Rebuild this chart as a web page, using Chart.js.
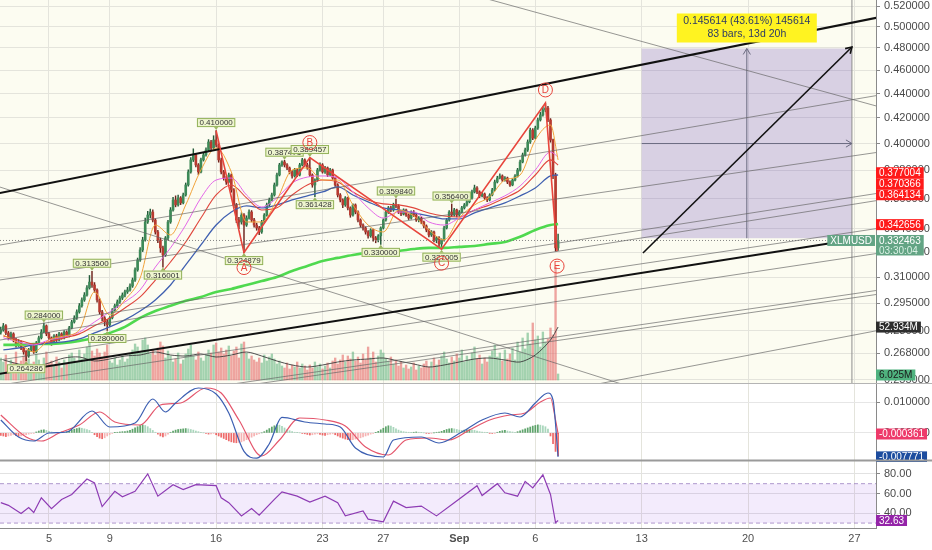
<!DOCTYPE html>
<html>
<head>
<meta charset="utf-8">
<script src="https://cdn.jsdelivr.net/npm/chart.js@4.4.1/dist/chart.umd.min.js"></script>
<style>
  html, body { margin: 0; padding: 0; background: #fff; }
  #wrap { position: relative; width: 932px; height: 550px; overflow: hidden; }
  .pane { position: absolute; left: 0; width: 932px; }
  #pMain { top: 0; height: 384px; }
  #pMacd { top: 384px; height: 78px; }
  #pRsi { top: 462px; height: 88px; }
</style>
</head>
<body>
<div id="wrap">
  <div class="pane" id="pMain"><canvas id="main"></canvas></div>
  <div class="pane" id="pMacd"><canvas id="macd"></canvas></div>
  <div class="pane" id="pRsi"><canvas id="rsi"></canvas></div>
</div>
<script>
// ---- XLMUSD 4h candles (bar index 0 = Aug 1 20:00) ----
const firstOpen = 0.2790;
const closes = [
  0.2803,0.2825,0.2787,0.2761,0.2782,0.2750,0.2724,0.2740,0.2708,0.2688,
  0.2667,0.2698,0.2719,0.2688,0.2734,0.2761,0.2792,0.2825,0.2782,0.2761,
  0.2734,0.2771,0.2750,0.2782,0.2761,0.2792,0.2771,0.2814,0.2846,0.2868,
  0.2901,0.2935,0.2968,0.2996,0.3037,0.3071,0.3054,0.3025,0.2968,0.2901,
  0.2868,0.2846,0.2830,0.2868,0.2912,0.2935,0.2957,0.2979,0.2996,0.3014,
  0.3025,0.3048,0.3083,0.3143,0.3203,0.3265,0.3328,0.3444,0.3490,0.3510,
  0.3457,0.3379,0.3328,0.3278,0.3234,0.3341,0.3444,0.3524,0.3592,0.3558,
  0.3606,0.3572,0.3626,0.3696,0.3789,0.3877,0.3914,0.3840,0.3789,0.3877,
  0.3914,0.3951,0.4012,0.3966,0.4027,0.3989,0.3877,0.3789,0.3745,0.3717,
  0.3767,0.3661,0.3558,0.3457,0.3444,0.3490,0.3424,0.3470,0.3510,0.3457,
  0.3424,0.3405,0.3379,0.3444,0.3490,0.3558,0.3592,0.3626,0.3696,0.3767,
  0.3840,0.3862,0.3840,0.3818,0.3789,0.3760,0.3803,0.3767,0.3840,0.3877,
  0.3840,0.3818,0.3767,0.3696,0.3731,0.3803,0.3840,0.3789,0.3818,0.3767,
  0.3803,0.3745,0.3696,0.3626,0.3592,0.3558,0.3606,0.3538,0.3490,0.3558,
  0.3510,0.3457,0.3424,0.3405,0.3379,0.3354,0.3392,0.3341,0.3328,0.3354,
  0.3405,0.3457,0.3510,0.3538,0.3524,0.3558,0.3551,0.3510,0.3497,0.3524,
  0.3490,0.3470,0.3510,0.3490,0.3457,0.3470,0.3444,0.3418,0.3392,0.3360,
  0.3379,0.3328,0.3341,0.3303,0.3328,0.3405,0.3457,0.3510,0.3490,0.3524,
  0.3490,0.3510,0.3538,0.3558,0.3579,0.3606,0.3647,0.3675,0.3647,0.3620,
  0.3633,0.3606,0.3592,0.3626,0.3661,0.3717,0.3745,0.3760,0.3731,0.3745,
  0.3717,0.3696,0.3731,0.3760,0.3803,0.3862,0.3914,0.3951,0.4012,0.4104,
  0.4042,0.4120,0.4184,0.4224,0.4264,0.4280,0.4184,0.4027,0.3767,0.3278,
  0.332463
];
const highs = [
  0.2818,0.2838,0.2832,0.2795,0.2792,0.2788,0.2758,0.2752,0.2745,0.2715,
  0.2694,0.2706,0.2728,0.2725,0.2742,0.2770,0.2805,0.2840,0.2830,0.2790,
  0.2766,0.2778,0.2780,0.2790,0.2788,0.2800,0.2798,0.2822,0.2855,0.2880,
  0.2912,0.2948,0.2980,0.3010,0.3050,0.3110,0.3135,0.3068,0.3032,0.2975,
  0.2910,0.2875,0.2860,0.2876,0.2920,0.2945,0.2968,0.2990,0.3008,0.3025,
  0.3040,0.3060,0.3095,0.3155,0.3215,0.3280,0.3345,0.3470,0.3515,0.3530,
  0.3525,0.3465,0.3390,0.3340,0.3290,0.3350,0.3455,0.3540,0.3610,0.3620,
  0.3625,0.3615,0.3640,0.3710,0.3805,0.3895,0.3960,0.3925,0.3850,0.3890,
  0.3930,0.3968,0.4030,0.4025,0.4060,0.4100,0.3998,0.3890,0.3800,0.3758,
  0.3780,0.3775,0.3670,0.3568,0.3475,0.3505,0.3500,0.3485,0.3525,0.3520,
  0.3468,0.3436,0.3415,0.3455,0.3500,0.3570,0.3605,0.3640,0.3710,0.3780,
  0.3852,0.3870,0.387471,0.3850,0.3825,0.3798,0.3815,0.3812,0.3852,0.3888,
  0.3885,0.3852,0.389457,0.3775,0.3740,0.3815,0.3855,0.3850,0.3830,0.3825,
  0.3815,0.3810,0.3752,0.3705,0.3635,0.3600,0.3615,0.3612,0.3545,0.3565,
  0.3565,0.3518,0.3465,0.3432,0.3412,0.3388,0.3400,0.3398,0.3350,0.3362,
  0.3412,0.3465,0.3520,0.3548,0.3550,0.3570,0.35984,0.3560,0.3522,0.3532,
  0.3530,0.3498,0.3518,0.3520,0.3498,0.3480,0.3478,0.3450,0.3425,0.3400,
  0.3388,0.3385,0.3350,0.3350,0.3335,0.3415,0.3468,0.3520,0.3564,0.3535,
  0.3530,0.3520,0.3548,0.3568,0.3590,0.3618,0.3660,0.3695,0.3685,0.3655,
  0.3645,0.3640,0.3615,0.3635,0.3672,0.3730,0.3758,0.3775,0.3768,0.3755,
  0.3752,0.3725,0.3740,0.3770,0.3815,0.3875,0.3928,0.3965,0.4028,0.4120,
  0.4115,0.4135,0.4200,0.4245,0.4290,0.4320,0.4295,0.4195,0.4035,0.3780,
  0.3365
];
const lows = [
  0.2780,0.2796,0.2778,0.2750,0.2752,0.2740,0.2712,0.2716,0.2700,0.2676,
  0.264286,0.2660,0.2690,0.2680,0.2684,0.2728,0.2755,0.2788,0.2772,0.2752,
  0.2722,0.2728,0.2742,0.2745,0.2754,0.2756,0.2764,0.2766,0.2808,0.2840,
  0.2860,0.2894,0.2928,0.2960,0.2990,0.3030,0.3040,0.3012,0.2955,0.2890,
  0.2852,0.2825,0.2800,0.2822,0.2862,0.2905,0.2925,0.2948,0.2970,0.2985,
  0.3005,0.3018,0.3040,0.3075,0.3135,0.3195,0.3255,0.3320,0.3435,0.3470,
  0.3445,0.3365,0.3310,0.3250,0.316001,0.3225,0.3330,0.3435,0.3515,0.3545,
  0.3550,0.3560,0.3565,0.3618,0.3688,0.3780,0.3865,0.3825,0.3770,0.3782,
  0.3868,0.3905,0.3942,0.3950,0.3958,0.3975,0.3860,0.3775,0.3730,0.3700,
  0.3710,0.3645,0.3540,0.3440,0.3400,0.3430,0.324879,0.3415,0.3462,0.3445,
  0.3410,0.3390,0.3362,0.3370,0.3436,0.3482,0.3548,0.3585,0.3618,0.3688,
  0.3760,0.3830,0.3825,0.3805,0.3775,0.3745,0.3752,0.3755,0.3760,0.3832,
  0.3830,0.3808,0.3755,0.3680,0.361428,0.3722,0.3795,0.3780,0.3778,0.3755,
  0.3760,0.3735,0.3685,0.3612,0.3578,0.3540,0.3548,0.3525,0.3475,0.3482,
  0.3498,0.3445,0.3410,0.3390,0.3365,0.3340,0.3345,0.3320,0.3310,0.3315,
  0.3300,0.3398,0.3450,0.3500,0.3512,0.3515,0.3540,0.3500,0.3485,0.3490,
  0.3480,0.3460,0.3462,0.3480,0.3448,0.3445,0.3432,0.3405,0.3380,0.3348,
  0.3350,0.3315,0.3310,0.3285,0.327005,0.3320,0.3398,0.3450,0.3480,0.3482,
  0.3478,0.3482,0.3502,0.3530,0.3550,0.3572,0.3598,0.3640,0.3635,0.3608,
  0.3612,0.3595,0.3580,0.3585,0.3620,0.3655,0.3710,0.3738,0.3720,0.3722,
  0.3705,0.3685,0.3690,0.3725,0.3752,0.3795,0.3855,0.3905,0.3940,0.4000,
  0.4030,0.4035,0.4110,0.4175,0.4215,0.4250,0.4170,0.4010,0.3740,0.3258,
  0.3262
];
// volume in millions
const volumes = [
  22,18,25,15,20,17,28,14,19,24,30,21,16,18,26,20,15,22,28,17,
  19,14,23,18,12,20,16,25,27,22,18,30,21,26,33,38,29,24,31,27,
  23,28,35,19,17,22,15,20,24,18,21,26,30,36,33,28,40,42,35,26,
  30,25,32,38,34,22,29,24,18,21,27,16,20,26,31,35,24,20,28,22,
  19,25,30,27,35,37,28,32,26,30,34,24,29,33,22,36,38,27,21,24,
  20,18,22,17,25,19,23,26,21,16,19,14,12,17,11,15,13,18,12,16,
  14,10,15,12,18,13,16,11,14,17,12,19,22,16,20,25,18,24,21,28,
  19,23,17,26,20,33,22,28,18,24,30,27,21,19,23,16,20,14,18,12,
  15,11,13,17,10,14,12,16,19,13,18,22,15,20,24,28,21,17,23,19,
  26,22,30,18,24,20,27,33,21,25,16,22,18,24,29,35,23,27,19,30,
  21,26,32,20,38,28,42,31,47,36,57,40,44,33,48,38,41,52,45,113,
  6.025
];

// ---- moving averages, read once a day (bar index) ----
const maBars = [1,7,13,19,25,31,37,43,49,55,61,67,73,79,85,91,97,103,109,115,121,127,133,139,145,151,157,163,169,175,181,187,193,199,205,211,217,220];
const emaFast = [0.2776,0.2734,0.2688,0.2750,0.2771,0.2803,0.3014,0.2884,0.2968,0.3095,0.3424,0.3360,0.3558,0.3803,0.3966,0.3789,0.3444,0.3444,0.3592,0.3803,0.3818,0.3731,0.3731,0.3558,0.3424,0.3379,0.3524,0.3484,0.3392,0.3328,0.3470,0.3558,0.3613,0.3731,0.3767,0.4027,0.4144,0.3877];
const emaMid = [0.2761,0.2740,0.2724,0.2750,0.2766,0.2792,0.2846,0.2901,0.2957,0.3025,0.3160,0.3278,0.3424,0.3606,0.3731,0.3745,0.3626,0.3544,0.3606,0.3710,0.3752,0.3760,0.3745,0.3647,0.3538,0.3470,0.3510,0.3510,0.3444,0.3424,0.3470,0.3524,0.3572,0.3620,0.3689,0.3803,0.3936,0.3899];
const smaRed = [0.2771,0.2750,0.2729,0.2740,0.2761,0.2782,0.2825,0.2868,0.2923,0.2985,0.3083,0.3191,0.3315,0.3470,0.3626,0.3696,0.3606,0.3524,0.3538,0.3626,0.3696,0.3731,0.3717,0.3647,0.3592,0.3565,0.3558,0.3538,0.3504,0.3484,0.3477,0.3524,0.3558,0.3606,0.3661,0.3767,0.3877,0.3840];
const emaSlow = [0.2698,0.2708,0.2724,0.2734,0.2740,0.2755,0.2787,0.2819,0.2857,0.2906,0.2968,0.3054,0.3173,0.3297,0.3424,0.3510,0.3551,0.3538,0.3558,0.3592,0.3620,0.3647,0.3682,0.3626,0.3579,0.3538,0.3524,0.3504,0.3484,0.3464,0.3464,0.3504,0.3538,0.3572,0.3620,0.3675,0.3760,0.3767];
const ema200 = [0.2724,0.2724,0.2729,0.2729,0.2734,0.2745,0.2761,0.2787,0.2819,0.2868,0.2906,0.2935,0.2963,0.2985,0.3014,0.3031,0.3054,0.3077,0.3101,0.3137,0.3167,0.3197,0.3216,0.3234,0.3247,0.3253,0.3259,0.3271,0.3278,0.3278,0.3284,0.3290,0.3303,0.3315,0.3348,0.3392,0.3424,0.3431];
const volMa = [20,16,13,17,22,23,19,21,24,25,28,25,24,26,23,25,28,24,19,15,13,15,18,20,21,22,19,16,13,15,18,21,22,20,18,25,40,53];

// ---- MACD ----
const macdBars = [0,7,13,19,26,36,43,53,60,65,69,78,85,90,96,101,106,111,120,128,134,140,151,155,166,173,182,190,199,205,211,216,218,220];
const macdLine = [0.00417,-0.00133,-0.00263,-0.00004,0.00029,0.00709,0.00191,0.00320,0.01097,0.00676,0.00968,0.01454,0.01259,0.00644,-0.00600,-0.00820,-0.00350,0.00500,0.00353,0.00288,0.00191,-0.00489,-0.00781,-0.00230,-0.00133,-0.00327,0.00029,0.00417,0.00644,0.00515,0.00968,0.01292,0.01065,-0.007771];
const signalBars = [0,10,16,23,31,39,45,55,63,71,81,87,94,103,110,118,128,136,144,153,160,169,177,185,193,201,207,213,217,219,220];
const signalLine = [0.00579,-0.00133,-0.00263,-0.00004,0.00255,0.00676,0.00353,0.00255,0.00903,0.00968,0.01454,0.01292,0.00417,-0.00748,-0.00230,0.00482,0.00417,0.00223,-0.00457,-0.00716,-0.00230,-0.00166,-0.00230,0.00094,0.00417,0.00579,0.00644,0.01000,0.01130,0.00417,-0.000361];
const histogram = [
  -0.0008,-0.0010,-0.0012,-0.0010,-0.0008,-0.0006,
  -0.0009,-0.0011,-0.0010,-0.0008,-0.0006,-0.0004,-0.0002,-0.0001,
  0.0003,0.0006,0.0009,0.0010,0.0008,0.0005,
  0.0003,0.0002,0.0001,0.0002,0.0003,0.0002,0.0004,0.0006,0.0009,0.0012,
  0.0014,0.0016,0.0015,0.0013,0.0011,0.0008,
  0.0002,-0.0006,-0.0012,-0.0017,-0.0019,-0.0016,-0.0010,-0.0005,
  -0.0002,0.0001,0.0002,0.0003,0.0004,0.0004,0.0006,0.0008,
  0.0012,0.0016,0.0020,0.0024,0.0026,0.0024,0.0020,0.0014,
  0.0008,0.0002,-0.0004,-0.0010,-0.0013,-0.0010,-0.0004,
  0.0002,0.0006,0.0009,0.0011,0.0012,0.0013,0.0014,0.0013,0.0011,0.0009,0.0006,0.0004,
  0.0002,0.0000,-0.0002,-0.0004,-0.0003,-0.0002,
  -0.0006,-0.0010,-0.0014,-0.0018,-0.0022,-0.0026,-0.0029,-0.0031,-0.0032,-0.0031,
  -0.0029,-0.0026,-0.0022,-0.0018,-0.0014,-0.0010,-0.0006,-0.0003,0.0000,0.0004,
  0.0009,0.0014,0.0019,0.0023,0.0026,0.0025,0.0021,0.0016,0.0011,0.0007,
  0.0004,0.0002,0.0001,0.0000,-0.0002,-0.0003,
  -0.0005,-0.0007,-0.0006,-0.0004,-0.0003,-0.0005,-0.0007,-0.0008,-0.0006,-0.0004,-0.0003,-0.0006,-0.0010,
  -0.0014,-0.0017,-0.0020,-0.0022,-0.0023,-0.0022,-0.0020,-0.0018,-0.0016,-0.0013,-0.0010,-0.0007,-0.0004,-0.0002,0.0001,0.0005,
  0.0010,0.0015,0.0020,0.0023,0.0022,0.0018,0.0013,0.0009,
  0.0006,0.0004,0.0003,0.0002,0.0001,0.0002,0.0003,0.0002,0.0001,0.0000,
  -0.0001,-0.0002,-0.0001,0.0000,0.0002,0.0003,0.0005,0.0008,0.0011,0.0013,
  0.0014,0.0013,0.0011,0.0009,0.0008,0.0009,0.0010,0.0011,0.0010,0.0008,0.0006,0.0004,0.0003,
  0.0002,0.0001,-0.0001,-0.0002,-0.0001,0.0002,0.0005,0.0007,0.0008,0.0006,0.0004,0.0003,0.0002,0.0004,0.0007,
  0.0010,0.0013,0.0016,0.0019,0.0022,0.0024,0.0026,0.0025,0.0023,0.0020,
  0.0012,-0.0010,-0.0035,-0.0060,-0.0074
];

// ---- RSI ----
const rsiBars = [0,3,8,11,13,16,20,24,28,34,37,40,45,48,53,58,62,68,72,77,85,87,90,95,99,102,108,111,117,122,128,133,136,143,145,151,155,160,166,172,179,188,190,196,199,204,207,210,214,217,219,220];
const rsiValues = [50.7,48,39.7,45.7,40.7,55.7,44.7,54,59,74.7,70.7,46.7,62.3,56.7,62.3,80,57.3,69,64,69,68,55.7,50.7,37.3,44.7,38,54,61.7,57.3,51.3,57.3,50.7,37.3,42.3,34,31.3,52.3,45.7,47.3,37.3,50.7,68,58,70,60.7,57.3,72.3,65.7,79,59,30.5,32.63];
const rsiBand = [70, 30];

// ---- axes ----
const xTickBars = [19,43,85,127,151,181,211,253,295,337];
const xTickLabels = ['5','9','16','23','27','Sep','6','13','20','27'];
const priceTicks = [0.52,0.50,0.48,0.46,0.44,0.42,0.40,0.38,0.36,0.34,0.325,0.31,0.295,0.28,0.268,0.255];
const macdTicks = [0.01, 0];
const rsiTicks = [80, 60, 40];

// ---- drawings (bar index, price) ----
const thickLines = [
  [[-1, 0.3638], [347, 0.5091]],
  [[-1, 0.2577], [345, 0.3351]]
];
const thinLines = [
  [[-1, 0.3294], [347, 0.4388]],
  [[-1, 0.3082], [347, 0.3936]],
  [[-1, 0.2801], [347, 0.3640]],
  [[-1, 0.2748], [347, 0.3591]],
  [[-1, 0.2646], [347, 0.3404]],
  [[-1, 0.2522], [347, 0.3246]],
  [[-1, 0.2369], [347, 0.3025]],
  [[-1, 0.2355], [347, 0.3002]],
  [[220, 0.2492], [347, 0.2802]],
  [[-1, 0.3685], [260, 0.2471]],
  [[190, 0.5285], [347, 0.4289]]
];
const patternBars = [85, 96, 122, 174, 215, 219.6];
const patternPrices = [0.41, 0.324879, 0.389457, 0.327005, 0.4322, 0.3258];
const letters = ['A', 'B', 'C', 'D', 'E'];
const letterBars = [96, 122, 174, 215, 219.6];
const letterPrices = [0.324879, 0.389457, 0.327005, 0.4322, 0.3258];
const pivotBars = [10, 17, 36, 42, 64, 85, 96, 112, 122, 124, 150, 156, 174, 178];
const pivotPrices = [0.264286, 0.284, 0.3135, 0.28, 0.316001, 0.41, 0.324879, 0.387471, 0.389457, 0.361428, 0.33, 0.35984, 0.327005, 0.3564];
const pivotIsHigh = [false, true, true, false, false, true, false, true, true, false, false, true, false, true];
const measureBars = [253, 336];
const measurePrices = [0.33390, 0.47951];
const measureMid = 0.40;
const diagArrow = [[253.5, 0.3246], [336, 0.4809]];
const maTagValues = [0.377004, 0.370366, 0.364134, 0.342656];
const volTagValues = [52.934, 6.025];

const FONT = '"Liberation Sans", Arial, sans-serif';
const X_MIN = -0.32, X_MAX = 345.5;
const P_MIN = 0.25283, P_MAX = 0.52599;
const AXIS_W = 56;
const lastPrice = closes[closes.length - 1];

const opens = closes.map((c, i) => i === 0 ? firstOpen : closes[i - 1]);
const isUp = closes.map((c, i) => c >= opens[i]);

function fixY(s) { s.width = AXIS_W; s.paddingTop = 0; s.paddingBottom = 0; }
function fixX(s) { s.paddingLeft = 0; s.paddingRight = 0; }

function xScale(showTicks) {
  return {
    type: 'linear', min: X_MIN, max: X_MAX, offset: false,
    grid: { color: '#e4e4dc', offset: false, drawTicks: showTicks, tickLength: 3, tickColor: 'rgba(0,0,0,0)' },
    border: { display: showTicks, color: '#8a8a8a' },
    ticks: {
      display: showTicks, autoSkip: false, maxRotation: 0, padding: 1, color: '#505050',
      font: c => ({ family: FONT, size: 11, weight: c.index === 5 ? 'bold' : 'normal' }),
      callback: (v, i) => xTickLabels[i]
    },
    afterBuildTicks: s => { s.ticks = xTickBars.map(v => ({ value: v })); },
    afterFit: fixX
  };
}
function yTicks(fmt) {
  return { autoSkip: false, padding: 4, color: '#4a4a4a', font: { family: FONT, size: 11 }, callback: fmt };
}

function lineDs(pts, color, width, order, extra) {
  return Object.assign({
    type: 'line', yAxisID: 'y', data: pts.map(p => ({ x: p[0], y: p[1] })),
    borderColor: color, borderWidth: width, pointRadius: 0, fill: false, tension: 0, order
  }, extra || {});
}
function maDs(vals, color, width) {
  return {
    type: 'line', yAxisID: 'y', data: maBars.map((k, i) => ({ x: k, y: vals[i] })),
    borderColor: color, borderWidth: width, pointRadius: 0, fill: false,
    cubicInterpolationMode: 'monotone', order: 3
  };
}

// price tag on the right axis; width follows the text
function drawTag(ctx, y, text, bg, fg, sub, subColor) {
  ctx.save();
  ctx.font = '10px ' + FONT;
  const w = Math.max(ctx.measureText(text).width, sub ? ctx.measureText(sub).width : 0) + 6;
  ctx.fillStyle = bg;
  ctx.fillRect(876, y - 5.5, w, sub ? 20.5 : 11);
  ctx.fillStyle = fg;
  ctx.textBaseline = 'middle';
  ctx.textAlign = 'left';
  ctx.fillText(text, 879, y + 0.5);
  if (sub) { ctx.fillStyle = subColor; ctx.fillText(sub, 879, y + 10.5); }
  ctx.restore();
}
function spread(ys, gap) {
  const out = ys.slice();
  for (let i = 1; i < out.length; i++) if (out[i] - out[i - 1] < gap) out[i] = out[i - 1] + gap;
  const shift = (ys.reduce((a, b) => a + b, 0) - out.reduce((a, b) => a + b, 0)) / ys.length;
  return out.map(v => v + shift);
}
function separator(ctx, y, color, width) {
  ctx.save();
  ctx.strokeStyle = color; ctx.lineWidth = width;
  ctx.beginPath(); ctx.moveTo(0, y); ctx.lineTo(932, y); ctx.stroke();
  ctx.restore();
}
function arrowHead(ctx, x, y, ang) {
  ctx.beginPath();
  ctx.moveTo(x + 7 * Math.cos(ang + 2.6), y + 7 * Math.sin(ang + 2.6));
  ctx.lineTo(x, y);
  ctx.lineTo(x + 7 * Math.cos(ang - 2.6), y + 7 * Math.sin(ang - 2.6));
  ctx.stroke();
}

const mainDecor = {
  id: 'mainDecor',
  beforeDraw(chart) {
    const { ctx, chartArea: a } = chart;
    ctx.save();
    ctx.fillStyle = '#fcfcf1';
    ctx.fillRect(a.left, a.top, a.right - a.left, a.bottom - a.top);
    ctx.restore();
  },
  beforeDatasetsDraw(chart) {
    const { ctx, scales: { x, y } } = chart;
    const x0 = x.getPixelForValue(measureBars[0]), x1 = x.getPixelForValue(measureBars[1]);
    const y0 = y.getPixelForValue(measurePrices[0]), y1 = y.getPixelForValue(measurePrices[1]);
    ctx.save();
    ctx.fillStyle = 'rgba(120, 90, 190, 0.27)';
    ctx.fillRect(x0, y1, x1 - x0, y0 - y1);
    ctx.restore();
  },
  afterDatasetsDraw(chart) {
    const { ctx, scales: { x, y } } = chart;
    ctx.save();
    // arrow heads of the measuring tool
    ctx.strokeStyle = '#111'; ctx.lineWidth = 1.6;
    const ax = x.getPixelForValue(diagArrow[1][0]), ay = y.getPixelForValue(diagArrow[1][1]);
    const bx = x.getPixelForValue(diagArrow[0][0]), by = y.getPixelForValue(diagArrow[0][1]);
    arrowHead(ctx, ax, ay, Math.atan2(ay - by, ax - bx));
    ctx.strokeStyle = '#6b6b80'; ctx.lineWidth = 1;
    const mx = x.getPixelForValue((measureBars[0] + measureBars[1]) / 2);
    arrowHead(ctx, mx, y.getPixelForValue(measurePrices[1]), -Math.PI / 2);
    arrowHead(ctx, x.getPixelForValue(measureBars[1]), y.getPixelForValue(measureMid), 0);

    // yellow measure label
    const top = y.getPixelForValue(measurePrices[1]);
    ctx.fillStyle = '#fff321';
    ctx.fillRect(mx - 70, top - 35, 140, 29);
    ctx.fillStyle = '#2c3a66';
    ctx.font = '10.5px ' + FONT;
    ctx.textAlign = 'center'; ctx.textBaseline = 'middle';
    ctx.fillText('0.145614 (43.61%) 145614', mx, top - 27);
    ctx.fillText('83 bars, 13d 20h', mx, top - 14);

    // pivot price labels
    ctx.font = '8px ' + FONT;
    pivotBars.forEach((k, i) => {
      const px = x.getPixelForValue(k), py = y.getPixelForValue(pivotPrices[i]);
      const txt = pivotPrices[i].toFixed(6);
      const w = ctx.measureText(txt).width + 5, h = 9;
      const cy = pivotIsHigh[i] ? py - 8 : py + 8;
      ctx.fillStyle = '#9bb862';
      ctx.beginPath();
      if (pivotIsHigh[i]) { ctx.moveTo(px - 2.5, cy + 4); ctx.lineTo(px + 2.5, cy + 4); ctx.lineTo(px, py - 0.5); }
      else { ctx.moveTo(px - 2.5, cy - 4); ctx.lineTo(px + 2.5, cy - 4); ctx.lineTo(px, py + 0.5); }
      ctx.fill();
      ctx.fillStyle = '#eef5cf'; ctx.strokeStyle = '#93b25a'; ctx.lineWidth = 1;
      ctx.fillRect(px - w / 2, cy - h / 2, w, h);
      ctx.strokeRect(px - w / 2 + 0.5, cy - h / 2 + 0.5, w - 1, h - 1);
      ctx.fillStyle = '#333'; ctx.textAlign = 'center'; ctx.textBaseline = 'middle';
      ctx.fillText(txt, px, cy + 0.5);
    });

    // circled pattern letters
    const dy = [15, -15, 14, -13, 15];
    letters.forEach((L, i) => {
      const px = x.getPixelForValue(letterBars[i]), py = y.getPixelForValue(letterPrices[i]) + dy[i];
      ctx.strokeStyle = '#e8453c'; ctx.lineWidth = 1;
      ctx.beginPath(); ctx.arc(px, py, 7, 0, Math.PI * 2); ctx.stroke();
      ctx.fillStyle = '#e8453c'; ctx.font = '10px ' + FONT;
      ctx.textAlign = 'center'; ctx.textBaseline = 'middle';
      ctx.fillText(L, px, py + 0.5);
    });

    // symbol label left of axis
    const ly = y.getPixelForValue(lastPrice);
    ctx.font = '10px ' + FONT;
    const sw = ctx.measureText('XLMUSD').width + 6;
    ctx.fillStyle = '#63a484';
    ctx.fillRect(875 - sw, ly - 5.5, sw, 11);
    ctx.fillStyle = '#fff';
    ctx.textAlign = 'left'; ctx.textBaseline = 'middle';
    ctx.fillText('XLMUSD', 878 - sw, ly + 0.5);
    ctx.restore();
  },
  afterDraw(chart) {
    const { ctx, scales: { y, yv } } = chart;
    const ys = spread(maTagValues.slice(0, 3).map(v => y.getPixelForValue(v)), 11);
    maTagValues.slice(0, 3).forEach((v, i) => drawTag(ctx, ys[i], v.toFixed(6), '#ff1a1a', '#fff'));
    drawTag(ctx, y.getPixelForValue(maTagValues[3]), maTagValues[3].toFixed(6), '#ff1a1a', '#fff');
    drawTag(ctx, y.getPixelForValue(lastPrice), lastPrice.toFixed(6), '#63a484', '#fff', '03:30:04', '#d9f0e4');
    drawTag(ctx, yv.getPixelForValue(volTagValues[0]), volTagValues[0].toFixed(3) + 'M', '#2e2e2e', '#fff');
    drawTag(ctx, yv.getPixelForValue(volTagValues[1]) + 1, volTagValues[1].toFixed(3) + 'M', '#4fb27e', '#1a1a1a');
    separator(ctx, chart.chartArea.bottom - 0.5, '#b4b4b4', 1);
  }
};

new Chart(document.getElementById('main'), {
  type: 'line',
  data: {
    datasets: [
      lineDs(patternBars.map((k, i) => [k, patternPrices[i]]), '#e8453c', 1.6, 0),
      ...thickLines.map(l => lineDs(l, '#111', 2, 1)),
      lineDs(diagArrow, '#111', 1.6, 1),
      ...thinLines.map(l => lineDs(l, 'rgba(100,100,100,0.75)', 0.9, 2)),
      lineDs([[X_MIN, lastPrice], [X_MAX, lastPrice]], 'rgba(120,120,120,0.9)', 1, 2, { borderDash: [1, 2] }),
      lineDs([[336, P_MIN], [336, P_MAX]], '#8d8d8d', 1, 2),
      lineDs([[294.5, measurePrices[0]], [294.5, measurePrices[1]]], '#6b6b80', 1, 2),
      lineDs([[measureBars[0], measureMid], [measureBars[1], measureMid]], '#6b6b80', 1, 2),
      maDs(emaFast, '#f2a33a', 1),
      maDs(emaMid, '#e468e8', 1),
      maDs(smaRed, '#e0463c', 1.1),
      maDs(emaSlow, '#4060b0', 1.3),
      maDs(ema200, '#4fd94f', 2.6),
      {
        type: 'bar', yAxisID: 'y', order: 4, grouped: false, barThickness: 2, minBarLength: 0.8,
        data: closes.map((c, i) => ({ x: i, y: [opens[i], c] })),
        backgroundColor: isUp.map(u => u ? '#3d8a58' : '#b83a30')
      },
      {
        type: 'bar', yAxisID: 'y', order: 5, grouped: false, barThickness: 0.8,
        data: closes.map((c, i) => ({ x: i, y: [lows[i], highs[i]] })),
        backgroundColor: isUp.map(u => u ? '#245c3a' : '#6e241d')
      },
      {
        type: 'line', yAxisID: 'yv', order: 6, data: maBars.map((k, i) => ({ x: k, y: volMa[i] })),
        borderColor: '#3c3c3c', borderWidth: 0.9, pointRadius: 0, fill: false, tension: 0.3
      },
      {
        type: 'bar', yAxisID: 'yv', order: 7, grouped: false, barThickness: 1.7,
        data: volumes.map((v, i) => ({ x: i, y: v })),
        backgroundColor: isUp.map(u => u ? 'rgba(90,175,120,0.55)' : 'rgba(228,105,105,0.6)')
      }
    ]
  },
  options: {
    animation: false, responsive: true, maintainAspectRatio: false, events: [],
    layout: { padding: 0 },
    plugins: { legend: { display: false }, tooltip: { enabled: false } },
    scales: {
      x: xScale(false),
      y: {
        type: 'logarithmic', position: 'right', min: P_MIN, max: P_MAX, bounds: 'data', beginAtZero: false,
        grid: { color: '#e4e4dc', tickLength: 4, tickColor: '#888' },
        border: { color: '#8a8a8a' },
        ticks: yTicks(v => Number(v).toFixed(6)),
        afterBuildTicks: s => { s.ticks = priceTicks.map(v => ({ value: v })); },
        afterFit: fixY
      },
      yv: { type: 'linear', position: 'left', display: false, min: -4, max: 380 }
    }
  },
  plugins: [mainDecor]
});

// ---- MACD pane ----
const histColors = histogram.map((v, i) => {
  const prev = i ? histogram[i - 1] : v;
  if (v >= 0) return v >= prev ? 'rgba(56,142,72,0.8)' : 'rgba(140,200,165,0.75)';
  return v <= prev ? 'rgba(232,70,70,0.8)' : 'rgba(242,160,160,0.8)';
});
const macdDecor = {
  id: 'macdDecor',
  afterDraw(chart) {
    const { ctx, scales: { y } } = chart;
    const s = signalLine[signalLine.length - 1], m = macdLine[macdLine.length - 1];
    drawTag(ctx, y.getPixelForValue(s), s.toFixed(6), '#ee3a6a', '#fff');
    drawTag(ctx, y.getPixelForValue(m), m.toFixed(6), '#1d4d9f', '#fff');
    separator(ctx, chart.height - 1.5, '#9a9a9a', 2);
  }
};
new Chart(document.getElementById('macd'), {
  type: 'line',
  data: {
    datasets: [
      { type: 'line', order: 0, data: macdBars.map((k, i) => ({ x: k, y: macdLine[i] })), borderColor: '#3c5fb2', borderWidth: 1.2, pointRadius: 0, fill: false, cubicInterpolationMode: 'monotone' },
      { type: 'line', order: 1, data: signalBars.map((k, i) => ({ x: k, y: signalLine[i] })), borderColor: '#e4566c', borderWidth: 1.2, pointRadius: 0, fill: false, cubicInterpolationMode: 'monotone' },
      { type: 'bar', order: 2, grouped: false, barThickness: 1.1, data: histogram.map((v, i) => ({ x: i, y: v })), backgroundColor: histColors }
    ]
  },
  options: {
    animation: false, responsive: true, maintainAspectRatio: false, events: [],
    plugins: { legend: { display: false }, tooltip: { enabled: false } },
    scales: {
      x: xScale(false),
      y: {
        type: 'linear', position: 'right', min: -0.009428, max: 0.015829,
        grid: { color: '#e6e6e6', tickLength: 4, tickColor: '#888' },
        border: { color: '#8a8a8a' },
        ticks: yTicks(v => Number(v).toFixed(6)),
        afterBuildTicks: s => { s.ticks = macdTicks.map(v => ({ value: v })); },
        afterFit: fixY
      }
    }
  },
  plugins: [macdDecor]
});

// ---- RSI pane ----
const rsiDecor = {
  id: 'rsiDecor',
  afterDraw(chart) {
    const { ctx, scales: { y } } = chart;
    const v = rsiValues[rsiValues.length - 1];
    drawTag(ctx, y.getPixelForValue(v), v.toFixed(2), '#9424a8', '#fff');
  }
};
new Chart(document.getElementById('rsi'), {
  type: 'line',
  data: {
    datasets: [
      { order: 0, data: rsiBars.map((k, i) => ({ x: k, y: rsiValues[i] })), borderColor: '#8e3cb4', borderWidth: 1.2, pointRadius: 0, fill: false, tension: 0 },
      { order: 1, data: [{ x: X_MIN, y: rsiBand[0] }, { x: X_MAX, y: rsiBand[0] }], borderColor: 'rgba(150,120,190,0.75)', borderWidth: 1, borderDash: [4, 3], pointRadius: 0, fill: false },
      { order: 2, data: [{ x: X_MIN, y: rsiBand[1] }, { x: X_MAX, y: rsiBand[1] }], borderColor: 'rgba(150,120,190,0.75)', borderWidth: 1, borderDash: [4, 3], pointRadius: 0, fill: '-1', backgroundColor: 'rgba(160,100,230,0.13)' }
    ]
  },
  options: {
    animation: false, responsive: true, maintainAspectRatio: false, events: [],
    layout: { padding: { bottom: 3 } },
    plugins: { legend: { display: false }, tooltip: { enabled: false } },
    scales: {
      x: xScale(true),
      y: {
        type: 'linear', position: 'right', min: 24.2, max: 92,
        grid: { color: '#e2e2e2', tickLength: 4, tickColor: '#888' },
        border: { color: '#8a8a8a' },
        ticks: yTicks(v => Number(v).toFixed(2)),
        afterBuildTicks: s => { s.ticks = rsiTicks.map(v => ({ value: v })); },
        afterFit: fixY
      }
    }
  },
  plugins: [rsiDecor]
});
</script>
</body>
</html>
